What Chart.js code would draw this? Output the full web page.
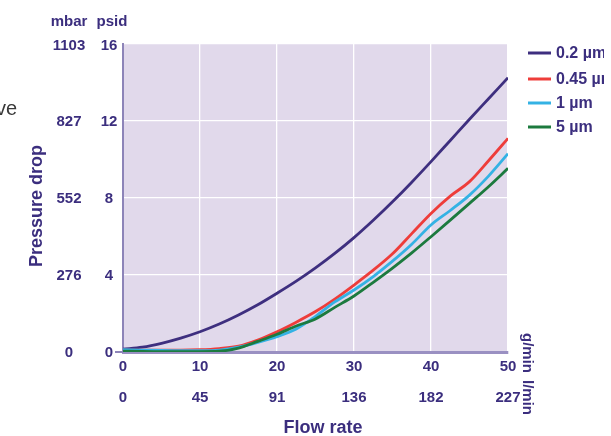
<!DOCTYPE html>
<html>
<head>
<meta charset="utf-8">
<script src="https://cdn.jsdelivr.net/npm/chart.js@4"></script>
<style>
  html, body { margin: 0; padding: 0; background: #fff; }
  canvas { display: block; }
</style>
</head>
<body>
<canvas id="chart" width="611" height="436"></canvas>
<script>
// --- data ---
const flow = [0, 2.5, 5, 7.5, 10, 12.5, 15, 17.5, 20, 22.5, 25, 27.5, 30, 32.5, 35, 37.5, 40, 42.5, 45, 47.5, 50];
const p02  = [0.15, 0.25, 0.45, 0.72, 1.05, 1.45, 1.92, 2.45, 3.05, 3.68, 4.37, 5.12, 5.94, 6.84, 7.8, 8.82, 9.89, 10.99, 12.09, 13.17, 14.25];
const p045 = [0.1, 0.1, 0.1, 0.1, 0.12, 0.18, 0.3, 0.62, 1.05, 1.55, 2.1, 2.75, 3.48, 4.25, 5.1, 6.15, 7.2, 8.1, 8.85, 9.95, 11.1];
const p1   = [0.12, 0.1, 0.08, 0.07, 0.07, 0.1, 0.25, 0.5, 0.8, 1.2, 1.85, 2.6, 3.22, 3.92, 4.72, 5.6, 6.6, 7.35, 8.15, 9.15, 10.3];
const p5   = [0.05, 0.03, 0.02, 0.02, 0.02, 0.04, 0.2, 0.55, 0.92, 1.35, 1.72, 2.32, 2.91, 3.62, 4.36, 5.15, 5.99, 6.85, 7.72, 8.6, 9.54];
const seriesLabels = ['0.2 µm', '0.45 µm', '1 µm', '5 µm'];
const seriesColors = ['#3e2f7f', '#ee3d3a', '#34b2e4', '#1c7a3e'];
const gminTicks = [0, 10, 20, 30, 40, 50];
const lminTicks = [0, 45, 91, 136, 182, 227];
const psidTicks = [0, 4, 8, 12, 16];
const mbarTicks = [0, 276, 552, 827, 1103];

const TXT = '#3b2e7e';
const BOLD = 'bold 15px "Liberation Sans", Arial, sans-serif';

function pts(ys) { return flow.map((x, i) => ({ x: x, y: ys[i] })); }

const plotBg = {
  id: 'plotBg',
  beforeDraw(chart) {
    const { ctx, chartArea: a } = chart;
    ctx.save();
    ctx.fillStyle = '#e1d9eb';
    ctx.fillRect(a.left, a.top, a.right - a.left, a.bottom - a.top);
    ctx.restore();
  }
};

const labels = {
  id: 'labels',
  afterDraw(chart) {
    const { ctx, scales: { x, y } } = chart;
    ctx.save();
    ctx.fillStyle = TXT;
    ctx.font = BOLD;
    ctx.textAlign = 'center';
    ctx.textBaseline = 'middle';
    // y tick columns
    psidTicks.forEach((v, i) => {
      const py = y.getPixelForValue(v) + (v === 16 ? 2 : 1);
      ctx.fillText(String(v), 109, py);
      ctx.fillText(String(mbarTicks[i]), 69, py);
    });
    ctx.fillText('mbar', 69, 22);
    ctx.fillText('psid', 112, 22);
    // x tick rows
    gminTicks.forEach((v, i) => {
      const px = x.getPixelForValue(v);
      ctx.fillText(String(v), px, 367);
      ctx.fillText(String(lminTicks[i]), px, 398);
    });
    // zero tick stub
    ctx.strokeStyle = '#8d84b8';
    ctx.lineWidth = 2;
    ctx.beginPath();
    ctx.moveTo(115, y.getPixelForValue(0));
    ctx.lineTo(x.left, y.getPixelForValue(0));
    ctx.stroke();
    // axis titles
    ctx.font = 'bold 18px "Liberation Sans", Arial, sans-serif';
    ctx.fillText('Flow rate', 323, 428);
    ctx.save();
    ctx.translate(37, 206);
    ctx.rotate(-Math.PI / 2);
    ctx.fillText('Pressure drop', 0, 0);
    ctx.restore();
    // unit labels on the right
    ctx.font = BOLD;
    ctx.textAlign = 'left';
    ctx.save();
    ctx.translate(527, 333);
    ctx.rotate(Math.PI / 2);
    ctx.fillText('g/min', 0, 0);
    ctx.restore();
    ctx.save();
    ctx.translate(527, 380);
    ctx.rotate(Math.PI / 2);
    ctx.fillText('l/min', 0, 0);
    ctx.restore();
    // legend (text cut at the page edge like the reference)
    const ly = [53, 79, 103, 127];
    ctx.font = 'bold 16px "Liberation Sans", Arial, sans-serif';
    seriesLabels.forEach((s, i) => {
      ctx.strokeStyle = seriesColors[i];
      ctx.lineWidth = 3;
      ctx.beginPath();
      ctx.moveTo(528, ly[i]);
      ctx.lineTo(551, ly[i]);
      ctx.stroke();
    });
    ctx.save();
    ctx.beginPath();
    ctx.rect(552, 30, 52, 120);
    ctx.clip();
    ctx.fillStyle = TXT;
    seriesLabels.forEach((s, i) => ctx.fillText(s, 556, ly[i] + 1));
    ctx.restore();
    // clipped text from the surrounding page
    ctx.font = '20px "Liberation Sans", Arial, sans-serif';
    ctx.fillStyle = '#3a3a3a';
    ctx.textAlign = 'right';
    ctx.textBaseline = 'alphabetic';
    ctx.fillText('ve', 17, 115);
    ctx.restore();
  }
};

const series = [p02, p045, p1, p5];
new Chart(document.getElementById('chart'), {
  type: 'line',
  data: {
    datasets: series.map((s, i) => ({
      label: seriesLabels[i],
      data: pts(s),
      borderColor: seriesColors[i],
      borderWidth: 2.8,
      pointRadius: 0,
      fill: false,
      cubicInterpolationMode: 'monotone',
      order: 3 - i
    }))
  },
  options: {
    responsive: false,
    animation: false,
    devicePixelRatio: 1,
    layout: { padding: { left: 0, right: 103, top: 44, bottom: 0 } },
    plugins: { legend: { display: false }, tooltip: { enabled: false } },
    scales: {
      x: {
        type: 'linear', min: 0, max: 50,
        ticks: { stepSize: 10, display: false },
        grid: { color: '#ffffff', lineWidth: 1.3, drawTicks: false },
        border: { color: '#9a90c2', width: 3 },
        afterFit(s) { s.height = 84; }
      },
      y: {
        type: 'linear', min: 0, max: 16,
        ticks: { stepSize: 4, display: false },
        grid: { color: '#ffffff', lineWidth: 1.3, drawTicks: false },
        border: { color: '#8d84b8', width: 2 },
        afterFit(s) { s.width = 123; }
      }
    }
  },
  plugins: [plotBg, labels]
});
</script>
</body>
</html>
